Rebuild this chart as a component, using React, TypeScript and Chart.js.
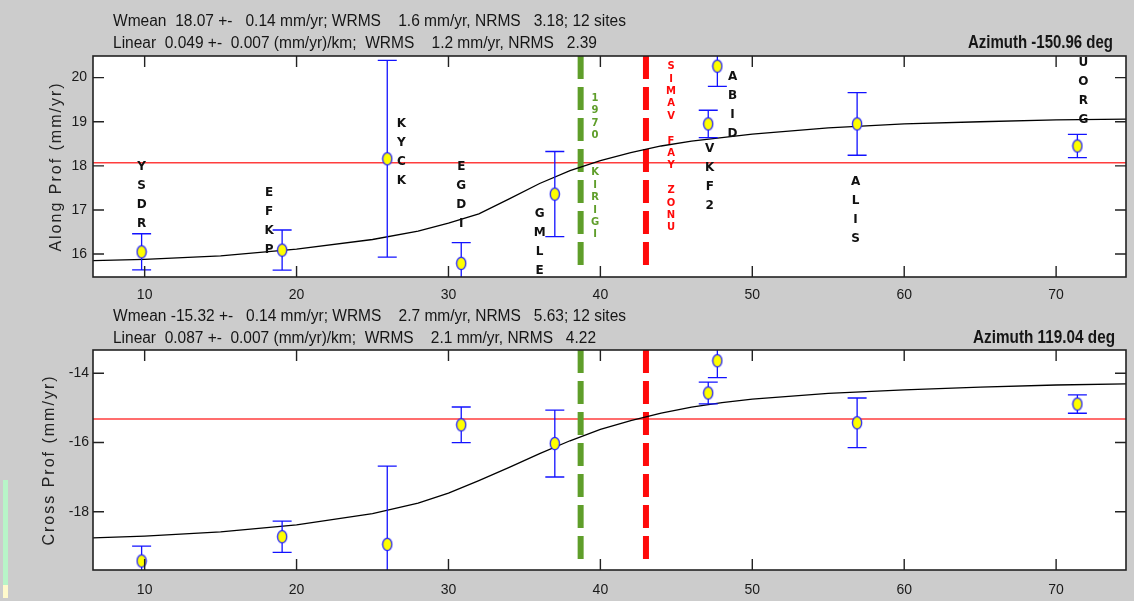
import React, { useEffect, useRef } from "react";
import { Chart, registerables } from "chart.js";

Chart.register(...registerables);

// ---------- shared x axis (distance along profile, km) ----------
const xRange = [6.6, 74.6];
const xTickValues = [10, 20, 30, 40, 50, 60, 70];

// ---------- sites ----------
const siteDist = [9.8, 19.05, 25.97, 30.84, 37.0, 47.1, 47.7, 56.9, 71.4];
const alongVel = [16.05, 16.09, 18.16, 15.79, 17.36, 18.95, 20.26, 18.95, 18.45];
const alongSig = [0.41, 0.455, 2.23, 0.47, 0.965, 0.31, 0.46, 0.71, 0.265];
const crossVel = [-19.42, -18.72, -18.94, -15.49, -16.03, -14.57, -13.64, -15.43, -14.89];
const crossSig = [0.43, 0.45, 2.26, 0.515, 0.965, 0.315, 0.49, 0.715, 0.265];

// site name annotations (top panel): distance, velocity of first letter
const siteNames = ["YSDR", "EFKP", "KYCK", "EGDI", "GMLE", "ABID", "VKF2", "ALIS", "UORG"];
const siteNameDist = [9.8, 18.2, 26.9, 30.84, 36.0, 48.7, 47.2, 56.8, 71.8];
const siteNameAlong = [17.97, 17.38, 18.95, 17.97, 16.92, 20.02, 18.38, 17.64, 20.33];

// ---------- model curves ----------
const modelDist = [6.6, 10, 15, 20, 25, 28, 30, 32, 34, 36, 38, 40, 42, 44, 46, 48, 50, 55, 60, 65, 70, 74.6];
const alongModel = [15.85, 15.88, 15.96, 16.11, 16.33, 16.52, 16.7, 16.91, 17.25, 17.6, 17.89, 18.12, 18.3, 18.45, 18.56, 18.64, 18.72, 18.86, 18.95, 19.0, 19.04, 19.06];
const crossModel = [-18.75, -18.7, -18.58, -18.38, -18.05, -17.75, -17.46, -17.1, -16.72, -16.32, -15.95, -15.62, -15.37, -15.15, -14.98, -14.85, -14.75, -14.58, -14.48, -14.4, -14.34, -14.31];

// ---------- weighted means ----------
const alongMean = 18.07;
const crossMean = -15.32;

// ---------- faults ----------
const faultDist = [38.7, 43.0];
const faultColors = ["#5f9e2a", "#ff0a0a"];
const faultNames = ["1970  KIRIGI", "SIMAV FAY ZONU"];
const faultNameDist = [39.65, 44.65];
const faultNameAlong = [19.53, 20.25];
const faultEndAlong = [15.68, 15.68];
const faultEndCross = [-19.4, -19.49];

// ---------- axes ----------
const alongRange = [15.48, 20.49];
const alongTicks = [16, 17, 18, 19, 20];
const crossRange = [-19.68, -13.33];
const crossTicks = [-18, -16, -14];

// ---------- header texts ----------
const alongHeader = [
  "Wmean  18.07 +-   0.14 mm/yr; WRMS    1.6 mm/yr, NRMS   3.18; 12 sites",
  "Linear  0.049 +-  0.007 (mm/yr)/km;  WRMS    1.2 mm/yr, NRMS   2.39",
];
const crossHeader = [
  "Wmean -15.32 +-   0.14 mm/yr; WRMS    2.7 mm/yr, NRMS   5.63; 12 sites",
  "Linear  0.087 +-  0.007 (mm/yr)/km;  WRMS    2.1 mm/yr, NRMS   4.22",
];
const alongAzimuth = "Azimuth -150.96 deg";
const crossAzimuth = "Azimuth 119.04 deg";

const FONT = "'Liberation Sans', Arial, sans-serif";

type PanelCfg = {
  height: number;
  padTop: number;
  xAxisH: number;
  xPad: number;
  yPad: number;
  yRange: number[];
  yTicks: number[];
  vel: number[];
  sig: number[];
  model: number[];
  mean: number;
  faultEnd: number[];
  header: string[];
  headerBase: number[];
  headerWidth: number[];
  azimuth: string;
  azBase: number;
  azRight: number;
  azWidth: number;
  yTitle: string;
  yTitleX: number;
  labels: boolean;
};

function makeDecor(p: PanelCfg) {
  return {
    id: "decor",
    beforeDraw(chart: any) {
      const { ctx, chartArea: a } = chart;
      ctx.save();
      ctx.fillStyle = "#ffffff";
      ctx.fillRect(a.left, a.top, a.right - a.left, a.bottom - a.top);
      ctx.restore();
    },
    beforeDatasetDraw(chart: any, args: any) {
      if (args.index !== 0) return;
      const { ctx, chartArea: a, scales } = chart;
      const xs = scales.x;
      const ys = scales.y;
      ctx.save();
      ctx.beginPath();
      ctx.rect(a.left, a.top, a.right - a.left, a.bottom - a.top);
      ctx.clip();
      ctx.strokeStyle = "#1212ff";
      ctx.lineWidth = 1.3;
      siteDist.forEach((d, i) => {
        const px = xs.getPixelForValue(d);
        const t = ys.getPixelForValue(p.vel[i] + p.sig[i]);
        const b = ys.getPixelForValue(p.vel[i] - p.sig[i]);
        ctx.beginPath();
        ctx.moveTo(px, t);
        ctx.lineTo(px, b);
        ctx.moveTo(px - 9.5, t);
        ctx.lineTo(px + 9.5, t);
        ctx.moveTo(px - 9.5, b);
        ctx.lineTo(px + 9.5, b);
        ctx.stroke();
      });
      ctx.restore();
    },
    afterDatasetsDraw(chart: any) {
      if (!p.labels) return;
      const { ctx, chartArea: a, scales } = chart;
      const xs = scales.x;
      const ys = scales.y;
      ctx.save();
      ctx.beginPath();
      ctx.rect(a.left, a.top, a.right - a.left, a.bottom - a.top);
      ctx.clip();
      ctx.textAlign = "center";
      ctx.textBaseline = "middle";
      ctx.fillStyle = "#111111";
      ctx.font = "bold 12px 'DejaVu Sans', sans-serif";
      siteNames.forEach((name, i) => {
        const px = xs.getPixelForValue(siteNameDist[i]);
        const py = ys.getPixelForValue(siteNameAlong[i]);
        name.split("").forEach((ch, k) => ctx.fillText(ch, px, py + k * 19));
      });
      ctx.font = "bold 10px 'DejaVu Sans', sans-serif";
      faultNames.forEach((name, i) => {
        const px = xs.getPixelForValue(faultNameDist[i]);
        const py = ys.getPixelForValue(faultNameAlong[i]);
        ctx.fillStyle = faultColors[i];
        name.split("").forEach((ch, k) => {
          if (ch !== " ") ctx.fillText(ch, px, py + k * 12.4);
        });
      });
      ctx.restore();
    },
    afterDraw(chart: any) {
      const { ctx, chartArea: a, scales } = chart;
      const xs = scales.x;
      const ys = scales.y;
      ctx.save();
      // ticks (inside, all four sides)
      ctx.strokeStyle = "#222222";
      ctx.lineWidth = 1.4;
      const tl = 11;
      ctx.beginPath();
      xTickValues.forEach((v) => {
        const px = xs.getPixelForValue(v);
        ctx.moveTo(px, a.bottom);
        ctx.lineTo(px, a.bottom - tl);
        ctx.moveTo(px, a.top);
        ctx.lineTo(px, a.top + tl);
      });
      p.yTicks.forEach((v) => {
        const py = ys.getPixelForValue(v);
        ctx.moveTo(a.left, py);
        ctx.lineTo(a.left + tl, py);
        ctx.moveTo(a.right, py);
        ctx.lineTo(a.right - tl, py);
      });
      ctx.stroke();
      // frame
      ctx.lineWidth = 1.6;
      ctx.strokeRect(a.left, a.top, a.right - a.left, a.bottom - a.top);
      // header texts
      ctx.fillStyle = "#161616";
      ctx.textBaseline = "alphabetic";
      ctx.textAlign = "left";
      ctx.font = `16px ${FONT}`;
      p.header.forEach((t, i) => ctx.fillText(t, 113, p.headerBase[i], p.headerWidth[i]));
      ctx.textAlign = "right";
      ctx.font = `bold 18px ${FONT}`;
      ctx.fillText(p.azimuth, p.azRight, p.azBase, p.azWidth);
      // y title
      ctx.translate(p.yTitleX, (a.top + a.bottom) / 2);
      ctx.rotate(-Math.PI / 2);
      ctx.textAlign = "center";
      ctx.textBaseline = "middle";
      ctx.font = `16px ${FONT}`;
      (ctx as any).letterSpacing = "2px";
      ctx.fillStyle = "#222222";
      ctx.fillText(p.yTitle, 0, 0);
      ctx.restore();
    },
  };
}

function Panel({ p }: { p: PanelCfg }) {
  const ref = useRef<HTMLCanvasElement>(null);
  useEffect(() => {
    const marker = document.createElement("canvas");
    marker.width = 12;
    marker.height = 15;
    const m = marker.getContext("2d")!;
    m.beginPath();
    m.ellipse(6, 7.5, 4.6, 6.1, 0, 0, Math.PI * 2);
    m.fillStyle = "#ffff00";
    m.fill();
    m.lineWidth = 1.3;
    m.strokeStyle = "#2222ff";
    m.stroke();

    const tickFont = { family: FONT, size: 14 };
    const chart = new Chart(ref.current!, {
      type: "scatter",
      data: {
        datasets: [
          {
            data: siteDist.map((d, i) => ({ x: d, y: p.vel[i] })),
            pointStyle: marker as any,
            pointRadius: 6,
            showLine: false,
            order: 0,
          },
          {
            data: modelDist.map((d, i) => ({ x: d, y: p.model[i] })),
            showLine: true,
            borderColor: "#000000",
            borderWidth: 1.3,
            pointRadius: 0,
            order: 1,
          },
          ...faultDist.map((d, i) => ({
            data: [
              { x: d, y: p.yRange[1] },
              { x: d, y: p.faultEnd[i] },
            ],
            showLine: true,
            borderColor: faultColors[i],
            borderWidth: 6,
            borderDash: [23, 8],
            borderCapStyle: "butt" as const,
            pointRadius: 0,
            order: 2,
          })),
          {
            data: [
              { x: xRange[0], y: p.mean },
              { x: xRange[1], y: p.mean },
            ],
            showLine: true,
            borderColor: "#ff3d3d",
            borderWidth: 1.6,
            pointRadius: 0,
            order: 3,
          },
        ],
      },
      options: {
        responsive: false,
        animation: false,
        devicePixelRatio: 1,
        events: [],
        layout: { padding: { top: p.padTop, right: 8, left: 0, bottom: 0 } },
        plugins: {
          legend: { display: false },
          tooltip: { enabled: false },
        },
        scales: {
          x: {
            type: "linear",
            min: xRange[0],
            max: xRange[1],
            grid: { display: false, drawTicks: false },
            border: { display: false },
            afterBuildTicks: (ax: any) => {
              ax.ticks = xTickValues.map((v) => ({ value: v }));
            },
            afterFit: (ax: any) => {
              ax.height = p.xAxisH;
            },
            ticks: { padding: p.xPad, color: "#1a1a1a", font: tickFont, maxRotation: 0, autoSkip: false },
          },
          y: {
            type: "linear",
            min: p.yRange[0],
            max: p.yRange[1],
            grid: { display: false, drawTicks: false },
            border: { display: false },
            afterBuildTicks: (ax: any) => {
              ax.ticks = p.yTicks.map((v) => ({ value: v }));
            },
            afterFit: (ax: any) => {
              ax.width = 93;
            },
            ticks: { padding: p.yPad, color: "#1a1a1a", font: tickFont, autoSkip: false },
          },
        },
      },
      plugins: [makeDecor(p)],
    } as any);
    return () => chart.destroy();
  }, [p]);
  return <canvas ref={ref} width={1134} height={p.height} style={{ display: "block" }} />;
}

const topPanel: PanelCfg = {
  height: 300,
  padTop: 56,
  xAxisH: 23,
  xPad: 10,
  yPad: 6,
  yRange: alongRange,
  yTicks: alongTicks,
  vel: alongVel,
  sig: alongSig,
  model: alongModel,
  mean: alongMean,
  faultEnd: faultEndAlong,
  header: alongHeader,
  headerBase: [25.5, 48],
  headerWidth: [513, 484],
  azimuth: alongAzimuth,
  azBase: 47.7,
  azRight: 1113,
  azWidth: 145,
  yTitle: "Along Prof (mm/yr)",
  yTitleX: 57,
  labels: true,
};

const bottomPanel: PanelCfg = {
  height: 301,
  padTop: 50,
  xAxisH: 31,
  xPad: 12,
  yPad: 4,
  yRange: crossRange,
  yTicks: crossTicks,
  vel: crossVel,
  sig: crossSig,
  model: crossModel,
  mean: crossMean,
  faultEnd: faultEndCross,
  header: crossHeader,
  headerBase: [20.8, 43.3],
  headerWidth: [513, 483],
  azimuth: crossAzimuth,
  azBase: 42.7,
  azRight: 1115,
  azWidth: 142,
  yTitle: "Cross Prof (mm/yr)",
  yTitleX: 50,
  labels: false,
};

export default function App() {
  return (
    <div
      style={{
        position: "fixed",
        left: 0,
        top: 0,
        width: 1134,
        height: 601,
        background: "#cccccc",
        overflow: "hidden",
      }}
    >
      <Panel p={topPanel} />
      <Panel p={bottomPanel} />
      <div style={{ position: "absolute", left: 3, top: 480, width: 5, height: 105, background: "#b8f5c8" }} />
      <div style={{ position: "absolute", left: 3, top: 585, width: 5, height: 13, background: "#fffacc" }} />
    </div>
  );
}
